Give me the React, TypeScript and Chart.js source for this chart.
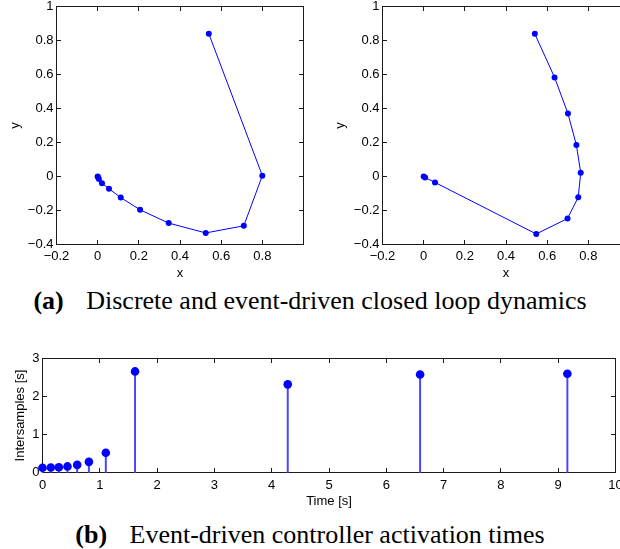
import React, { useEffect, useRef } from 'react';
import { Chart, registerables } from 'chart.js';

// ---- (a) left: discrete closed-loop trajectory ----
const discreteX = [0.54, 0.8, 0.71, 0.525, 0.345, 0.206, 0.112, 0.055, 0.021, 0.006, 0.001, 0];
const discreteY = [0.84, 0.005, -0.29, -0.332, -0.274, -0.196, -0.124, -0.072, -0.039, -0.014, -0.003, 0];

// ---- (a) right: event-driven closed-loop trajectory ----
const eventX = [0.54, 0.636, 0.701, 0.742, 0.763, 0.751, 0.699, 0.547, 0.055, 0.007, 0];
const eventY = [0.839, 0.583, 0.37, 0.185, 0.022, -0.122, -0.247, -0.338, -0.035, -0.006, 0];

// ---- (b) activation times and intersample durations ----
const activationTimes = [0, 0.145, 0.285, 0.436, 0.605, 0.81, 1.105, 1.615, 4.28, 6.59, 9.16];
const interSamples = [0.125, 0.13, 0.14, 0.16, 0.2, 0.28, 0.52, 2.66, 2.32, 2.58, 2.6];

// ---- axis ranges / tick steps ----
const phaseXRange = [-0.2, 1, 0.2];
const phaseYRange = [-0.4, 1, 0.2];
const timeRange = [0, 10, 1];
const interRange = [0, 3, 1];

const BLUE = '#0000ff';
const STEM = 'rgba(70,70,255,1)';
const FRAME = '#1a1a1a';
const FONT = '"Liberation Sans", Arial, Helvetica, sans-serif';
const SERIF = '"Liberation Serif", "Times New Roman", serif';
const TICK_LEN = 4;

function fmtTick(v: number): string {
  const r = Math.round(v * 10) / 10;
  if (r === 0) return '0';
  return (r < 0 ? '\u2212' : '') + String(Math.abs(r));
}

// MATLAB-like axes box with inward tick marks, drawn from the chart's own scales
const matlabBox = {
  id: 'matlabBox',
  beforeDatasetsDraw(chart: any) {
    const ctx: CanvasRenderingContext2D = chart.ctx;
    const a = chart.chartArea;
    const L = Math.floor(a.left);
    const R = Math.floor(a.right);
    const T = Math.floor(a.top);
    const B = Math.floor(a.bottom);
    const xs = chart.scales.x;
    const ys = chart.scales.y;
    ctx.save();
    ctx.fillStyle = FRAME;
    ctx.fillRect(L, T, R - L + 1, 1);
    ctx.fillRect(L, B, R - L + 1, 1);
    ctx.fillRect(L, T, 1, B - T + 1);
    ctx.fillRect(R, T, 1, B - T + 1);
    (xs.ticks || []).forEach((t: any) => {
      const p = Math.floor(xs.getPixelForValue(t.value));
      ctx.fillRect(p, B - TICK_LEN, 1, TICK_LEN);
      ctx.fillRect(p, T + 1, 1, TICK_LEN);
    });
    (ys.ticks || []).forEach((t: any) => {
      const p = Math.floor(ys.getPixelForValue(t.value));
      ctx.fillRect(L + 1, p, TICK_LEN, 1);
      ctx.fillRect(R - TICK_LEN, p, TICK_LEN, 1);
    });
    ctx.restore();
  },
};

Chart.register(...registerables);

function xAxis(range: number[], title: string, h: number, titlePad: number, labelPad: number, hideAbove?: number) {
  return {
    type: 'linear',
    position: 'bottom',
    min: range[0],
    max: range[1],
    offset: false,
    grid: { display: false, drawTicks: false, tickLength: 0 },
    border: { display: false },
    ticks: {
      stepSize: range[2],
      autoSkip: false,
      maxRotation: 0,
      padding: labelPad,
      color: '#000',
      font: { family: FONT, size: 13 },
      callback: (v: number) => (hideAbove !== undefined && v > hideAbove ? '' : fmtTick(v)),
    },
    title: {
      display: true,
      text: title,
      color: '#000',
      font: { family: FONT, size: 13 },
      padding: { top: 0, bottom: titlePad },
    },
    afterFit: (s: any) => {
      s.height = h;
      s.paddingLeft = 0;
      s.paddingRight = 0;
    },
  };
}

function yAxis(range: number[], title: string, w: number, titlePad: number, labelPad: number) {
  return {
    type: 'linear',
    position: 'left',
    min: range[0],
    max: range[1],
    grid: { display: false, drawTicks: false, tickLength: 0 },
    border: { display: false },
    ticks: {
      stepSize: range[2],
      autoSkip: false,
      padding: labelPad,
      color: '#000',
      font: { family: FONT, size: 13 },
      callback: (v: number) => fmtTick(v),
    },
    title: {
      display: true,
      text: title,
      color: '#000',
      font: { family: FONT, size: 13 },
      padding: { top: titlePad, bottom: 0 },
    },
    afterFit: (s: any) => {
      s.width = w;
      s.paddingTop = 0;
      s.paddingBottom = 0;
    },
  };
}

const baseOptions = {
  animation: false,
  responsive: false,
  maintainAspectRatio: false,
  devicePixelRatio: 1,
  events: [],
};

function phaseConfig(xs: number[], ys: number[], yw: number, padRight: number, yTitlePad: number) {
  return {
    type: 'scatter',
    data: {
      datasets: [
        {
          data: xs.map((x, i) => ({ x, y: ys[i] })),
          showLine: true,
          borderColor: BLUE,
          borderWidth: 1,
          pointRadius: 3,
          pointHoverRadius: 3,
          pointBackgroundColor: BLUE,
          pointBorderWidth: 0,
        },
      ],
    },
    options: {
      ...baseOptions,
      layout: { padding: { left: 0, top: 26.5, right: padRight, bottom: 0 } },
      plugins: { legend: { display: false }, tooltip: { enabled: false } },
      scales: {
        x: xAxis(phaseXRange, 'x', 36.5, 0.2, 4.4, 0.95),
        y: yAxis(phaseYRange, 'y', yw, yTitlePad, 3),
      },
    },
    plugins: [matlabBox],
  };
}

function stemConfig() {
  return {
    type: 'scatter',
    data: {
      datasets: [
        {
          type: 'scatter',
          order: 0,
          data: activationTimes.map((t, i) => ({ x: t, y: interSamples[i] })),
          pointRadius: 4.3,
          pointHoverRadius: 4.3,
          pointBackgroundColor: BLUE,
          pointBorderWidth: 0,
          clip: false,
        },
        {
          type: 'bar',
          order: 1,
          data: activationTimes.map((t, i) => ({ x: t, y: interSamples[i] })),
          backgroundColor: STEM,
          borderWidth: 0,
          barThickness: 1.3,
          clip: false,
        },
      ],
    },
    options: {
      ...baseOptions,
      layout: { padding: { left: 0, top: 28.5, right: 24.5, bottom: 0 } },
      plugins: { legend: { display: false }, tooltip: { enabled: false } },
      scales: {
        x: xAxis(timeRange, 'Time [s]', 37.5, 0.5, 4.7),
        y: yAxis(interRange, 'Intersamples [s]', 42.5, 12.2, 3),
      },
    },
    plugins: [matlabBox],
  };
}

function ChartCanvas(props: { make: () => any; left: number; top: number; width: number; height: number }) {
  const ref = useRef<HTMLCanvasElement>(null);
  useEffect(() => {
    const chart = new Chart(ref.current as HTMLCanvasElement, props.make());
    return () => chart.destroy();
  }, []);
  return (
    <canvas
      ref={ref}
      width={props.width}
      height={props.height}
      style={{ position: 'absolute', left: props.left, top: props.top, width: props.width, height: props.height }}
    />
  );
}

const captionStyle: React.CSSProperties = {
  position: 'absolute',
  left: 0,
  width: 620,
  textAlign: 'center',
  fontFamily: SERIF,
  fontSize: 26,
  lineHeight: '30px',
  whiteSpace: 'nowrap',
  color: '#000',
};

export default function App() {
  return (
    <div
      style={{
        position: 'fixed',
        left: 0,
        top: 0,
        width: 620,
        height: 549,
        overflow: 'hidden',
        background: '#fff',
      }}
    >
      <ChartCanvas make={() => phaseConfig(discreteX, discreteY, 56.5, 26.5, 7.2)} left={0} top={-20} width={330} height={301} />
      <ChartCanvas make={() => phaseConfig(eventX, eventY, 62.5, 20.5, 12.2)} left={320} top={-20} width={330} height={301} />
      <div style={{ ...captionStyle, top: 286.2 }}>
        <b style={{ marginRight: 16 }}>(a)</b> Discrete and event-driven closed loop dynamics
      </div>
      <ChartCanvas make={stemConfig} left={0} top={330} width={640} height={180} />
      <div style={{ ...captionStyle, top: 520.2 }}>
        <b style={{ marginRight: 16 }}>(b)</b> Event-driven controller activation times
      </div>
    </div>
  );
}
